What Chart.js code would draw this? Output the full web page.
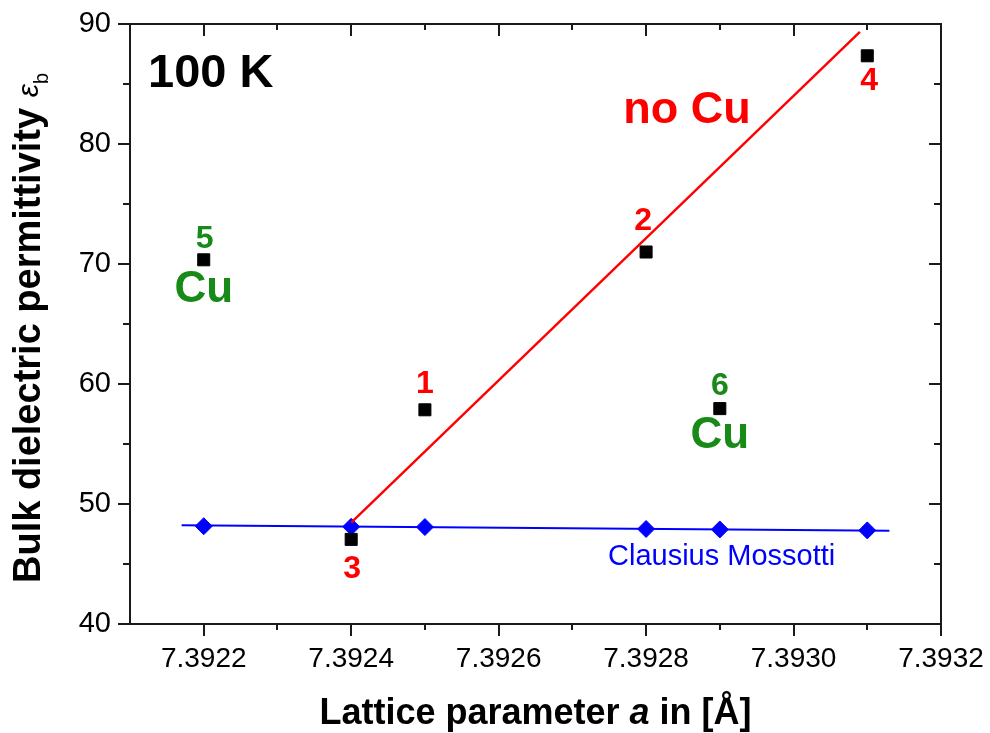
<!DOCTYPE html>
<html><head><meta charset="utf-8">
<script src="https://cdn.jsdelivr.net/npm/chart.js@4/dist/chart.umd.min.js"></script>
<style>html,body{margin:0;padding:0;background:#fff}canvas{display:block}</style>
</head><body>
<canvas id="c" width="990" height="733"></canvas>
<script>
// Measured samples: lattice parameter a (Å) vs bulk dielectric permittivity at 100 K
const sampleIds   = ['1', '2', '3', '4', '5', '6'];
const sampleA     = [7.3925, 7.3928, 7.3924, 7.3931, 7.3922, 7.3929];
const sampleEps   = [57.85, 71.0, 47.05, 87.35, 70.35, 57.95];
const sampleHasCu = [false, false, false, false, true, true];

// Clausius-Mossotti estimate at the same lattice parameters
const cmA   = [7.3922, 7.3924, 7.3925, 7.3928, 7.3929, 7.3931];
const cmEps = [48.15, 48.1, 48.08, 47.92, 47.88, 47.8];

// Straight-line trends
const cmFitA     = [7.39217, 7.39313];
const cmFitEps   = [48.22, 47.78];
const noCuFitA   = [7.3924, 7.39309];
const noCuFitEps = [48.45, 89.35];

// Axis ticks
const xTicks      = [7.3922, 7.3924, 7.3926, 7.3928, 7.3930, 7.3932];
const xMinorTicks = [7.3923, 7.3925, 7.3927, 7.3929, 7.3931];
const yTicks      = [40, 50, 60, 70, 80, 90];
const yMinorTicks = [45, 55, 65, 75, 85];

const FONT = "'Liberation Sans', Arial, Helvetica, sans-serif";
const RED = '#ff0000', GREEN = '#178a17', BLUE = '#0000ff', AXIS = '#1a1a1a';

const zip = (xs, ys) => xs.map((x, i) => ({ x, y: ys[i] }));

// label placement around each sample marker (pixels)
const idOffset = [[0, -17], [-3, -22], [1, 39], [2, 34], [1, -12], [0, -14]];
const cuOffset = [null, null, null, null, [0, 42], [0, 39]];

const frame = {
  id: 'frame',
  afterDraw(chart) {
    const ctx = chart.ctx, a = chart.chartArea;
    const xs = chart.scales.x, ys = chart.scales.y;
    ctx.save();
    ctx.strokeStyle = AXIS;
    ctx.lineWidth = 2;
    ctx.strokeRect(a.left, a.top, a.right - a.left, a.bottom - a.top);
    ctx.beginPath();
    const tick = (vals, len) => {
      vals.forEach(v => {
        const px = Math.round(xs.getPixelForValue(v));
        ctx.moveTo(px, a.bottom); ctx.lineTo(px, a.bottom + len);
        ctx.moveTo(px, a.top); ctx.lineTo(px, a.top + len);
      });
    };
    const ytick = (vals, len) => {
      vals.forEach(v => {
        const py = Math.round(ys.getPixelForValue(v));
        ctx.moveTo(a.left, py); ctx.lineTo(a.left - len, py);
        ctx.moveTo(a.right, py); ctx.lineTo(a.right - len, py);
      });
    };
    tick(xTicks, 12); tick(xMinorTicks, 6);
    ytick(yTicks, 12); ytick(yMinorTicks, 7);
    ctx.stroke();

    // x axis title
    ctx.fillStyle = '#000';
    ctx.textBaseline = 'alphabetic';
    const parts = [
      ['Lattice parameter ', `bold 36px ${FONT}`],
      ['a', `italic bold 36px ${FONT}`],
      [' in [Å]', `bold 36px ${FONT}`]
    ];
    let w = 0;
    parts.forEach(p => { ctx.font = p[1]; w += ctx.measureText(p[0]).width; });
    let x0 = (a.left + a.right) / 2 - w / 2;
    ctx.textAlign = 'left';
    parts.forEach(p => { ctx.font = p[1]; ctx.fillText(p[0], x0, 724); x0 += ctx.measureText(p[0]).width; });

    // y axis title
    ctx.save();
    ctx.translate(40, 583);
    ctx.rotate(-Math.PI / 2);
    ctx.font = `bold 38px ${FONT}`;
    const t1 = 'Bulk dielectric permittivity ';
    ctx.fillText(t1, 0, 0);
    let p = ctx.measureText(t1).width;
    ctx.font = `italic 30px ${FONT}`;
    ctx.fillText('ε', p, -2);
    p += ctx.measureText('ε').width;
    ctx.font = `20px ${FONT}`;
    ctx.fillText('b', p, 8);
    ctx.restore();
    ctx.restore();
  }
};

const notes = {
  id: 'notes',
  afterDatasetsDraw(chart) {
    const ctx = chart.ctx, a = chart.chartArea;
    const xs = chart.scales.x, ys = chart.scales.y;
    ctx.save();
    ctx.textAlign = 'center';
    ctx.textBaseline = 'alphabetic';
    sampleIds.forEach((id, i) => {
      const px = xs.getPixelForValue(sampleA[i]);
      const py = ys.getPixelForValue(sampleEps[i]);
      const col = sampleHasCu[i] ? GREEN : RED;
      ctx.fillStyle = col;
      ctx.font = `bold 32px ${FONT}`;
      ctx.fillText(id, px + idOffset[i][0], py + idOffset[i][1]);
      if (sampleHasCu[i]) {
        ctx.font = `bold 44px ${FONT}`;
        ctx.fillText('Cu', px + cuOffset[i][0], py + cuOffset[i][1]);
      }
    });
    ctx.fillStyle = RED;
    ctx.font = `bold 45px ${FONT}`;
    ctx.fillText('no Cu', a.left + 557, a.top + 99);
    ctx.fillStyle = '#000';
    ctx.textAlign = 'left';
    ctx.font = `bold 47px ${FONT}`;
    ctx.fillText('100 K', a.left + 18, a.top + 63);
    ctx.fillStyle = BLUE;
    ctx.font = `29px ${FONT}`;
    ctx.fillText('Clausius Mossotti', a.left + 478, a.top + 541);
    ctx.restore();
  }
};

new Chart(document.getElementById('c'), {
  type: 'scatter',
  data: {
    datasets: [
      {
        label: 'Clausius Mossotti fit',
        data: zip(cmFitA, cmFitEps),
        showLine: true, borderColor: BLUE, borderWidth: 2,
        pointRadius: 0, order: 4
      },
      {
        label: 'Clausius Mossotti',
        data: zip(cmA, cmEps),
        showLine: false, pointStyle: 'rectRot', pointRadius: 8.5,
        backgroundColor: BLUE, borderColor: BLUE, borderWidth: 1, order: 3
      },
      {
        label: 'no Cu trend',
        data: zip(noCuFitA, noCuFitEps),
        showLine: true, borderColor: RED, borderWidth: 2.4,
        pointRadius: 0, order: 2
      },
      {
        label: 'samples',
        data: zip(sampleA, sampleEps),
        showLine: false, pointStyle: 'rect', pointRadius: 8.5,
        backgroundColor: '#000', borderColor: '#000', borderWidth: 1, order: 1
      }
    ]
  },
  options: {
    responsive: false,
    animation: false,
    events: [],
    layout: { padding: { left: 0, right: 49, top: 24, bottom: 0 } },
    plugins: { legend: { display: false }, tooltip: { enabled: false } },
    scales: {
      x: {
        type: 'linear', min: 7.3921, max: 7.3932,
        grid: { display: false, drawTicks: false },
        border: { display: false },
        afterBuildTicks: s => { s.ticks = xTicks.map(v => ({ value: v })); },
        afterFit: s => { s.height = 109; s.paddingLeft = 0; s.paddingRight = 0; },
        ticks: {
          color: '#000', padding: 18, maxRotation: 0, autoSkip: false,
          font: { family: FONT, size: 28 },
          callback: v => Number(v).toFixed(4)
        }
      },
      y: {
        type: 'linear', min: 40, max: 90,
        grid: { display: false, drawTicks: false },
        border: { display: false },
        afterBuildTicks: s => { s.ticks = yTicks.map(v => ({ value: v })); },
        afterFit: s => { s.width = 130; s.paddingTop = 0; s.paddingBottom = 0; },
        ticks: {
          color: '#000', padding: 19, autoSkip: false,
          font: { family: FONT, size: 29 },
          callback: v => String(v)
        }
      }
    }
  },
  plugins: [notes, frame]
});
</script>
</body></html>
